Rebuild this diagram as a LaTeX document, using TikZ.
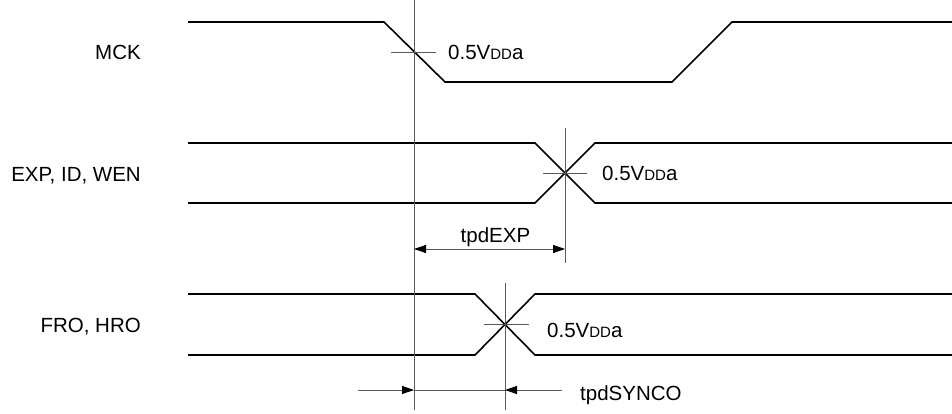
\documentclass[tikz,border=0pt]{standalone}
\usepackage{fontspec}
\setmainfont{Liberation Sans}
\usetikzlibrary{arrows.meta}

\newcommand{\halfvdda}{0.5V{\fontsize{15}{15}\selectfont DD}a}

\begin{document}
\begin{tikzpicture}[x=1pt, y=-1pt, font=\fontsize{20.5}{24}\selectfont,
  wave/.style={line width=1.6pt, line join=miter},
  guide/.style={line width=0.8pt, black!65},
  tip/.style={-{Triangle[length=12pt, width=8pt, color=black]}}]
\useasboundingbox (0,0) rectangle (952,414);

% signal names
\node[anchor=base east, inner sep=0pt] (mck) at (141, 60) {MCK};
\node[anchor=base east, inner sep=0pt] (exp) at (141, 182) {EXP, ID, WEN};
\node[anchor=base east, inner sep=0pt] (fro) at (141, 332) {FRO, HRO};

% waveforms
\draw[wave] (188,22) -- (384,22) -- (445,82) -- (672,82) -- (732,22) -- (952,22);
\draw[wave] (188,143) -- (535,143) -- (595,203) -- (952,203);
\draw[wave] (188,203) -- (535,203) -- (595,143) -- (952,143);
\draw[wave] (188,294) -- (475,294) -- (535,355) -- (952,355);
\draw[wave] (188,355) -- (475,355) -- (535,294) -- (952,294);

% crossing points
\coordinate (mckx) at (414,52);
\coordinate (expx) at (565,173);
\coordinate (frox) at (505,324.5);

% guide lines
\draw[guide] (mckx |- 0,0) -- (mckx |- 0,410);
\draw[guide] (expx |- 0,128) -- (expx |- 0,263);
\draw[guide] (frox |- 0,283) -- (frox |- 0,410);
\draw[guide] ([xshift=-23pt]mckx) -- ([xshift=22pt]mckx);
\draw[guide] ([xshift=-22pt]expx) -- ([xshift=22pt]expx);
\draw[guide] ([xshift=-21pt]frox) -- ([xshift=24pt]frox);

\node[anchor=base west, inner sep=0pt] (mcklvl) at (448, 60) {\halfvdda};
\node[anchor=base west, inner sep=0pt] (explvl) at (602, 181) {\halfvdda};
\node[anchor=base west, inner sep=0pt] (frolvl) at (547, 337) {\halfvdda};

% tpdEXP
\coordinate (tpdexpl) at (mckx |- 0,249);
\coordinate (tpdexpr) at (expx |- 0,249);
\draw[guide, {Triangle[length=12pt, width=8pt, color=black]}-{Triangle[length=12pt, width=8pt, color=black]}] (tpdexpl) -- (tpdexpr);
\node[anchor=base, inner sep=0pt] (tpdexp) at (495.5, 242) {tpdEXP};

% tpdSYNCO
\coordinate (syncol) at (mckx |- 0,390);
\coordinate (syncor) at (frox |- 0,390);
\coordinate (syncoa) at (358,390);
\coordinate (syncob) at (562,390);
\draw[guide, tip] (syncoa) -- (syncol);
\draw[guide] (syncol) -- (syncor);
\draw[guide, tip] (syncob) -- (syncor);
\node[anchor=base west, inner sep=0pt] (tpdsynco) at (580, 400) {tpdSYNCO};

\end{tikzpicture}
\end{document}
